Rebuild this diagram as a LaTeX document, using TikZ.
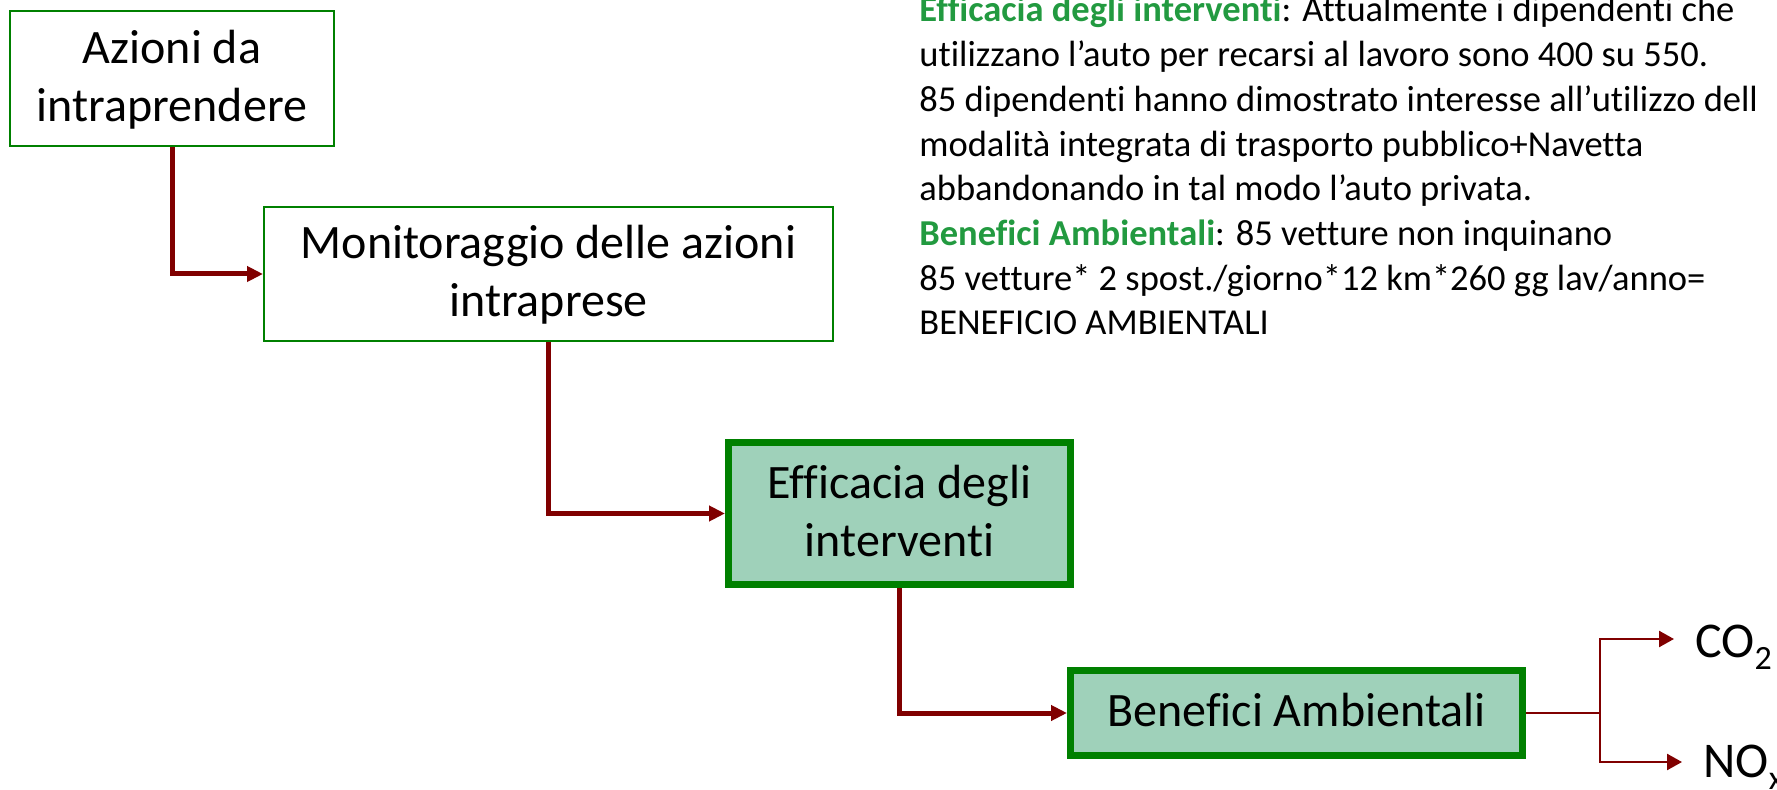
\documentclass[tikz,border=0pt]{standalone}
\usepackage{fontspec}
\setmainfont{Carlito}[Ligatures=NoCommon]
\usetikzlibrary{arrows.meta}
\definecolor{boxgreen}{RGB}{0,128,0}
\definecolor{boxfill}{RGB}{159,209,186}
\definecolor{arrred}{RGB}{128,0,0}
\definecolor{txtgreen}{RGB}{34,154,64}
\newcommand{\subtxt}[1]{\raisebox{-6pt}{\fontsize{17}{17}\selectfont #1}}
\newcommand{\tstrut}{\rule{0pt}{20.2pt}}
\newcommand{\bstrut}{\rule[-6.5pt]{0pt}{6.5pt}}
\tikzset{
  x=0.5pt, y=-0.5pt,
  plainbox/.style={draw=boxgreen, line width=1pt, fill=white, inner sep=0pt, align=center,
    font=\fontsize{24}{29}\selectfont},
  hlbox/.style={draw=boxgreen, line width=3.5pt, fill=boxfill, inner sep=0pt, align=center,
    font=\fontsize{24}{29}\selectfont},
  thickarrow/.style={draw=arrred, line width=2.5pt, -{Triangle[length=8pt,width=7.5pt]}},
  thinarrow/.style={draw=arrred, line width=1.2pt, -{Triangle[length=7.5pt,width=8pt]}},
  thinline/.style={draw=arrred, line width=1.2pt},
  label/.style={inner sep=0pt, anchor=base west, font=\fontsize{25}{29}\selectfont}
}
\begin{document}
\begin{tikzpicture}
\useasboundingbox (0,0) rectangle (1777,790);
\node[plainbox, minimum width=162pt, minimum height=67.5pt] (b1) at (172,78.5) {\tstrut Azioni da\\intraprendere\bstrut};
\node[plainbox, minimum width=284.5pt, minimum height=67pt] (b2) at (548.5,274) {\tstrut Monitoraggio delle azioni\\intraprese\bstrut};
\node[hlbox, minimum width=171pt, minimum height=71pt] (b3) at (899.5,513.5) {\tstrut Efficacia degli\\interventi\bstrut};
\node[hlbox, minimum width=226pt, minimum height=42.5pt] (b4) at (1296.5,713) {\tstrut Benefici Ambientali\bstrut};

\node[inner sep=0pt, anchor=base west] (para) at (919,22) {\parbox[t]{1000pt}{\raggedright\fontsize{18.25}{22.35}\selectfont\leavevmode
{\bfseries\color{txtgreen}Efficacia degli interventi}: Attualmente i dipendenti che\\
utilizzano l’auto per recarsi al lavoro sono 400 su 550.\\
85 dipendenti hanno dimostrato interesse all’utilizzo dell\\
modalità integrata di trasporto pubblico+Navetta\\
abbandonando in tal modo l’auto privata.\\
{\bfseries\color{txtgreen}Benefici Ambientali}: 85 vetture non inquinano\\
85 vetture* 2 spost./giorno*12 km*260 gg lav/anno=\\
BENEFICIO AMBIENTALI}};

\node[label] (co2) at (1695,657) {CO\subtxt{2}};
\node[label] (nox) at (1703,777) {NO\subtxt{x}};

\coordinate (j) at (1600,713);
\coordinate (c) at (1674,639);
\coordinate (n) at (1682,762);

\draw[thickarrow] (b1.south) |- (b2.west);
\draw[thickarrow] (b2.south) |- (b3.west);
\draw[thickarrow] (b3.south) |- (b4.west);
\draw[thinline] (b4.east) -- (j);
\draw[thinarrow] (j) |- (c);
\draw[thinarrow] (j) |- (n);
\end{tikzpicture}
\end{document}
